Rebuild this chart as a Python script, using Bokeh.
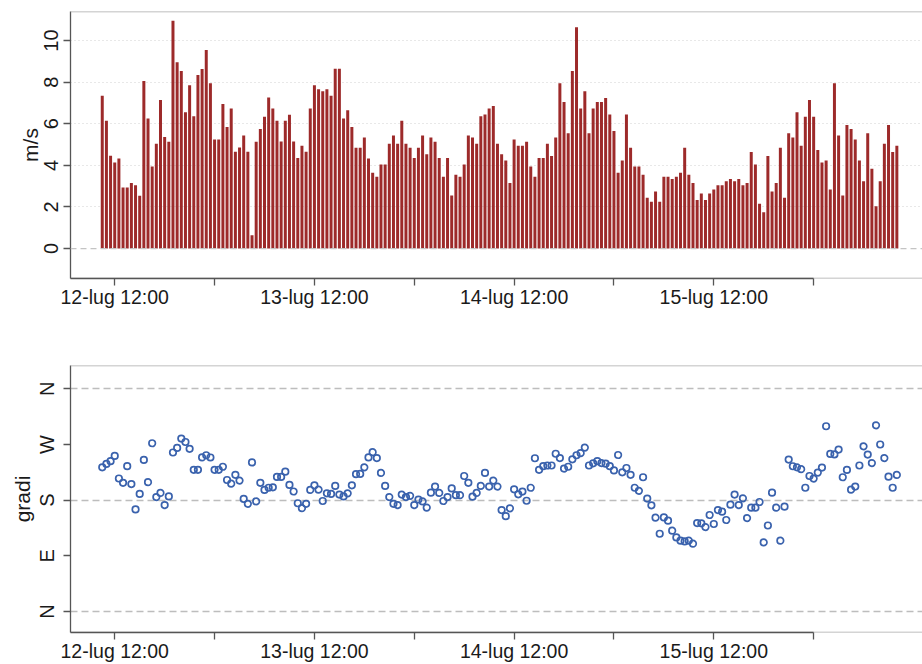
import pandas as pd
from bokeh.plotting import figure
from bokeh.layouts import column
from bokeh.models import FixedTicker, Span, Range1d, ColumnDataSource
from bokeh.embed import file_html
from bokeh.resources import INLINE

# ---------------- data ----------------
first_time = "2014-07-12 10:30"   # half-hourly observations

speed = [
    7.35, 6.15, 4.46, 4.14, 4.33, 2.94, 2.94, 3.15, 3.05, 2.54,
    8.06, 6.26, 3.95, 5.04, 7.14, 5.36, 5.14, 10.95, 8.96, 8.54,
    6.55, 7.85, 6.36, 8.35, 8.64, 9.55, 7.95, 5.25, 5.25, 6.95,
    5.84, 6.74, 4.65, 4.86, 5.44, 4.65, 0.64, 5.14, 5.75, 6.34,
    7.26, 6.74, 6.15, 5.15, 6.15, 6.44, 5.15, 4.35, 4.94, 4.65,
    6.74, 7.85, 7.66, 7.56, 7.66, 7.35, 8.65, 8.65, 6.26, 6.65,
    5.84, 4.85, 4.85, 5.34, 4.33, 3.64, 3.45, 4.04, 4.04, 5.04,
    5.44, 5.04, 6.15, 5.04, 4.85, 4.35, 4.85, 5.44, 4.54, 5.34,
    5.14, 4.35, 3.45, 4.35, 2.55, 3.55, 3.45, 4.04, 5.44, 5.34,
    5.04, 6.36, 6.45, 6.74, 6.85, 5.04, 4.54, 4.24, 3.15, 5.25,
    4.94, 4.94, 5.14, 3.95, 3.45, 4.35, 4.35, 5.04, 4.45, 5.34,
    7.95, 7.05, 5.55, 8.54, 10.64, 6.74, 7.56, 5.55, 6.74, 7.05,
    7.05, 7.24, 6.45, 5.65, 3.64, 4.24, 6.45, 4.85, 3.95, 3.95,
    3.55, 2.44, 2.25, 2.74, 2.25, 3.45, 3.45, 3.34, 3.45, 3.64,
    4.85, 3.55, 3.15, 2.34, 2.65, 2.34, 2.65, 2.84, 3.05, 3.05,
    3.24, 3.34, 3.24, 3.34, 3.05, 3.15, 4.64, 4.04, 2.15, 1.75,
    4.45, 2.74, 3.15, 4.85, 2.44, 5.54, 5.34, 6.55, 4.94, 6.34,
    7.14, 6.34, 4.74, 4.14, 4.24, 2.84, 7.95, 5.44, 2.55, 5.94,
    5.75, 5.25, 4.24, 3.24, 5.54, 3.84, 2.04, 3.24, 5.04, 5.94,
    4.64, 4.94,
]

direction = [
    233, 238.5, 243, 251.5, 215, 208, 235, 206, 165, 190,
    245, 209, 272, 185, 191.6, 172, 186, 257, 264.5, 279.6,
    274, 263, 229, 229, 249, 252.6, 249, 229, 229, 234,
    212.6, 206.7, 221, 211.6, 182, 174, 241, 178, 208, 196.5,
    200, 200.8, 217.5, 217.5, 226, 204.6, 194, 175, 167, 174,
    196.5, 204, 197, 178.6, 191, 190, 203, 189, 186, 191,
    204, 222, 222.4, 233, 249, 257.5, 248, 224, 203, 185,
    174, 172, 189, 185, 187, 172, 181, 178, 168, 192,
    202, 191.6, 178.6, 185, 199, 188, 188, 219, 208, 185.6,
    191.6, 203, 224, 202, 211.6, 202, 164, 154, 166.8, 197.5,
    189.4, 193.8, 179, 200, 247.7, 229, 235, 236, 236, 255,
    248, 231, 234, 246, 252.6, 256, 265, 236, 239.6, 243,
    240, 239, 235, 228, 253, 225, 232, 221, 200, 195,
    217, 182.5, 171.6, 151.7, 125.7, 152, 146.8, 130.6, 119.8, 114.4,
    113.3, 114.4, 109.6, 143, 142.5, 136.5, 156, 141.4, 164, 161.4,
    147.9, 172.7, 189, 172, 183, 151, 167.8, 167.8, 177, 111.7,
    139, 192, 167.8, 114.4, 169.5, 245.6, 234.8, 233, 230, 200,
    219, 214.8, 224.5, 232.6, 299.5, 254.7, 254, 261.8, 217, 228.8,
    197, 202, 236, 267, 253.6, 240, 301, 270, 248, 218,
    200, 220.7,
]

x_tick_times = ["2014-07-12 12:00", "2014-07-13 00:00", "2014-07-13 12:00",
                "2014-07-14 00:00", "2014-07-14 12:00", "2014-07-15 00:00",
                "2014-07-15 12:00", "2014-07-16 00:00"]
x_tick_labels = ["12-lug 12:00", "", "13-lug 12:00", "", "14-lug 12:00", "",
                 "15-lug 12:00", ""]

speed_ticks = [0, 2, 4, 6, 8, 10]
speed_grid = [2, 4, 6, 8, 10]
dir_ticks = [0, 90, 180, 270, 360]
dir_labels = ["N", "E", "S", "W", "N"]
dir_grid = [0, 180, 360]

# ---------------- helpers ----------------
def ms(s):
    return pd.Timestamp(s).value / 1e6

times = pd.date_range(first_time, periods=len(speed), freq="30min")
t_ms = [ts.value / 1e6 for ts in times]
src = ColumnDataSource(dict(t=t_ms, speed=speed, direction=direction))

tick_ms = [ms(s) for s in x_tick_times]
x_overrides = {tm: lab for tm, lab in zip(tick_ms, x_tick_labels)}

FONT = "Liberation Sans"
TXT = "#1a1a1a"
AXC = "#555555"
BOXC = "#a9a9a9"
HALF_HOUR = 30 * 60 * 1000

x_range = Range1d(ms("2014-07-12 06:41"), ms("2014-07-16 13:05"))


def make_fig(height, y_range, border_top, border_bottom):
    p = figure(width=922, height=height, x_axis_type="datetime",
               x_range=x_range, y_range=y_range,
               output_backend="svg", toolbar_location=None,
               min_border_left=70, min_border_right=0,
               min_border_top=border_top, min_border_bottom=border_bottom)
    p.outline_line_color = None
    p.background_fill_color = "white"
    p.border_fill_color = "white"
    p.xgrid.visible = False

    xa = p.xaxis[0]
    xa.ticker = FixedTicker(ticks=tick_ms)
    xa.major_label_overrides = x_overrides
    xa.bounds = (x_range.start, tick_ms[-1])
    ya = p.yaxis[0]
    for ax in (xa, ya):
        ax.axis_line_color = AXC
        ax.axis_line_width = 1.3
        ax.major_tick_line_color = AXC
        ax.major_tick_line_width = 1.3
        ax.major_tick_out = 7
        ax.major_tick_in = 0
        ax.minor_tick_out = 0
        ax.minor_tick_in = 0
        ax.major_label_text_font = FONT
        ax.major_label_text_color = TXT
        ax.axis_label_text_font = FONT
        ax.axis_label_text_color = TXT
        ax.axis_label_text_font_style = "normal"
    xa.major_label_text_font_size = "19.5px"
    xa.major_label_standoff = 0
    ya.major_label_text_font_size = "20px"
    ya.major_label_orientation = "vertical"
    ya.major_label_standoff = 5
    ya.axis_label_text_font_size = "21px"
    ya.axis_label_standoff = 0

    # frame: grey top line and grey continuation of the bottom line
    p.add_layout(Span(location=y_range.end, dimension="width",
                      line_color=BOXC, line_width=1.3))
    p.add_layout(Span(location=y_range.start, dimension="width",
                      line_color=BOXC, line_width=1.3, level="underlay"))
    return p


# ---------------- top panel: speed ----------------
p1 = make_fig(320, Range1d(-1.44, 11.4), 11, 42)
p1.yaxis[0].ticker = FixedTicker(ticks=speed_ticks)
p1.yaxis[0].axis_label = "m/s"
p1.ygrid.ticker = FixedTicker(ticks=speed_grid)
p1.ygrid.grid_line_color = "#d0d0d0"
p1.ygrid.grid_line_dash = "1 3"
p1.ygrid.grid_line_width = 1
p1.vbar(x="t", top="speed", bottom=0, width=0.72 * HALF_HOUR, source=src,
        fill_color="#9d2a2a", line_color=None)
p1.add_layout(Span(location=0, dimension="width", line_color="#c4c4c4",
                   line_dash="6 4", line_width=1.3))

# ---------------- bottom panel: direction ----------------
p2 = make_fig(344, Range1d(-34, 397.7), 45, 32)
p2.yaxis[0].ticker = FixedTicker(ticks=dir_ticks)
p2.yaxis[0].major_label_overrides = {t: l for t, l in zip(dir_ticks, dir_labels)}
p2.yaxis[0].axis_label = "gradi"
p2.ygrid.ticker = FixedTicker(ticks=dir_grid)
p2.ygrid.grid_line_color = "#bdbdbd"
p2.ygrid.grid_line_dash = "7 4"
p2.ygrid.grid_line_width = 1.3
p2.scatter(x="t", y="direction", source=src, marker="circle", size=6.5,
           fill_color=None, line_color="#3a62ad", line_width=1.7)

layout = column(p1, p2, spacing=0)
open("out.html", "w").write(file_html(layout, INLINE))
